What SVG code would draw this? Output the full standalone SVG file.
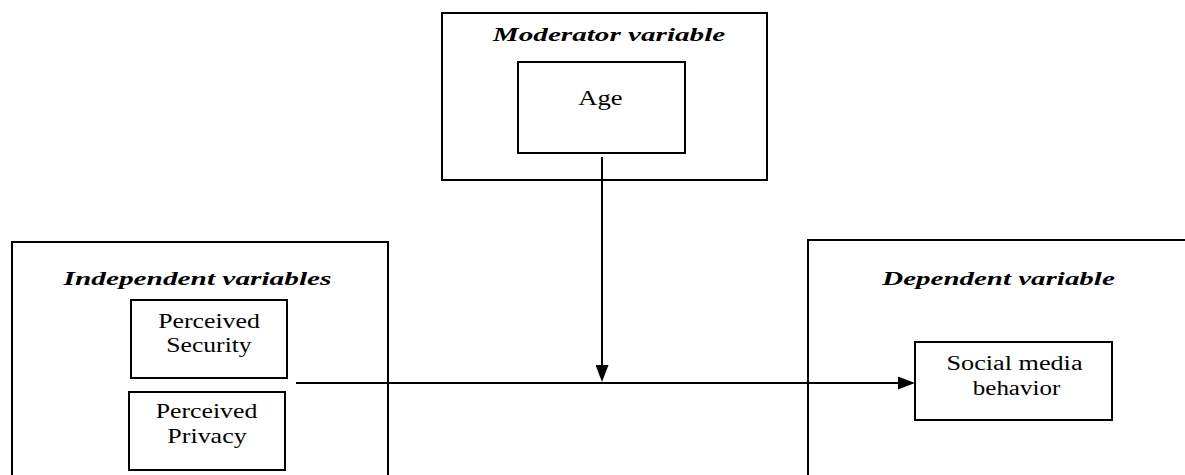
<svg xmlns="http://www.w3.org/2000/svg" width="1185" height="475" viewBox="0 0 1185 475">
<defs>
<marker id="arr" markerUnits="userSpaceOnUse" markerWidth="17" markerHeight="13" refX="0" refY="6.5" orient="auto" viewBox="0 0 17 13">
<path d="M0,0 L17,6.5 L0,13 z" fill="#000"/>
</marker>
<style>
.box{fill:#fff;stroke:#000;stroke-width:2}
.title{font-family:"Liberation Serif",serif;font-weight:bold;font-style:italic;font-size:18px;fill:#000}
.lbl{font-family:"Liberation Serif",serif;font-size:20px;fill:#000}
.con{stroke:#000;stroke-width:2;fill:none}
</style>
</defs>
<rect width="1185" height="475" fill="#fff"/>
<g id="moderator">
<rect class="box" x="442" y="13" width="325" height="167"/>
<text class="title" text-anchor="middle" transform="translate(609,41) scale(1.62,1)">Moderator variable</text>
</g>
<g id="age">
<rect class="box" x="518" y="62" width="167" height="91"/>
<text class="lbl" text-anchor="middle" transform="translate(600.5,105) scale(1.33,1)">Age</text>
</g>
<g id="independent">
<rect class="box" x="12" y="242" width="376" height="260"/>
<text class="title" text-anchor="middle" transform="translate(197.5,285) scale(1.63,1)">Independent variables</text>
</g>
<g id="security">
<rect class="box" x="131" y="300" width="156" height="78"/>
<text class="lbl" text-anchor="middle" transform="translate(209,327.5) scale(1.29,1)">Perceived</text>
<text class="lbl" text-anchor="middle" transform="translate(209,352) scale(1.28,1)">Security</text>
</g>
<g id="privacy">
<rect class="box" x="129" y="392" width="156" height="78"/>
<text class="lbl" text-anchor="middle" transform="translate(206.5,418) scale(1.29,1)">Perceived</text>
<text class="lbl" text-anchor="middle" transform="translate(207,443) scale(1.3,1)">Privacy</text>
</g>
<g id="dependent">
<rect class="box" x="808" y="240" width="400" height="260"/>
<text class="title" text-anchor="middle" transform="translate(998.5,285) scale(1.61,1)">Dependent variable</text>
</g>
<g id="behavior">
<rect class="box" x="915" y="342" width="197" height="78"/>
<text class="lbl" text-anchor="middle" transform="translate(1014.5,370) scale(1.31,1)">Social media</text>
<text class="lbl" text-anchor="middle" transform="translate(1016.5,395) scale(1.25,1)">behavior</text>
</g>
<g id="connectors">
<line class="con" x1="602" y1="157" x2="602" y2="365" marker-end="url(#arr)"/>
<line class="con" x1="296" y1="383" x2="898" y2="383" marker-end="url(#arr)"/>
</g>
</svg>
